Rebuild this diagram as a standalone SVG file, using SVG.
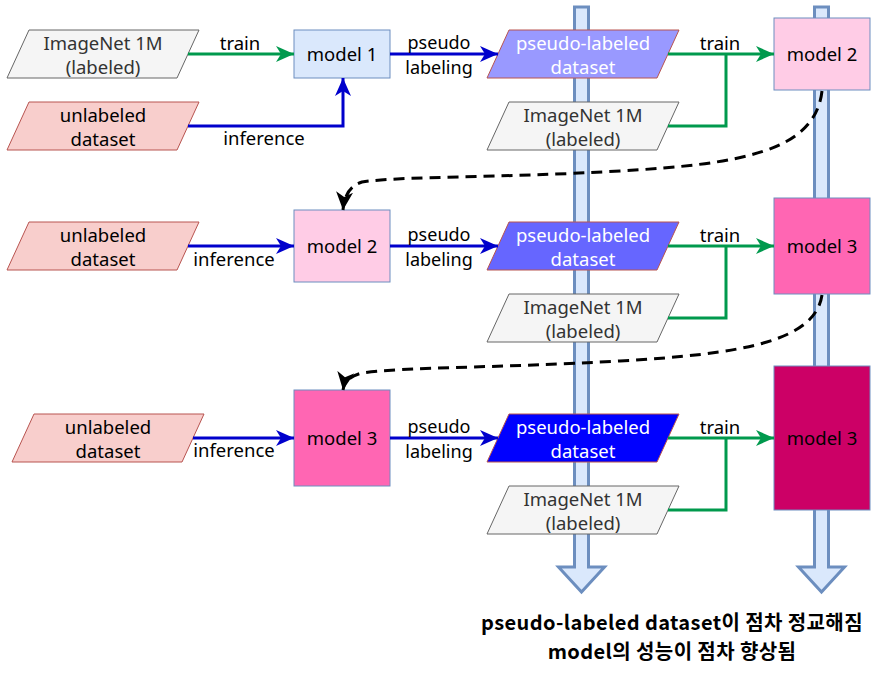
<svg xmlns="http://www.w3.org/2000/svg" width="884" height="674" viewBox="0 0 884 674">
<style>
text{font-family:"Noto Sans","DejaVu Sans",sans-serif;font-size:18.5px;text-anchor:middle;fill:#000}
.gray{fill:#f5f5f5;stroke:#666666;stroke-width:1}
.red{fill:#f8cecc;stroke:#b85450;stroke-width:1}
.pl{stroke:#b85450;stroke-width:1}
.mdl{stroke:#6c8ebf;stroke-width:1}
.t-gray{fill:#333333}
.t-white{fill:#ffffff}
.lbl2{font-size:18px}
.big{fill:#dae8fc;stroke:#6c8ebf;stroke-width:3}
.green{fill:none;stroke:#00994d;stroke-width:3}
.blue{fill:none;stroke:#0000cc;stroke-width:3}
.dash{fill:none;stroke:#000;stroke-width:3;stroke-dasharray:11 7}
.bottom{font-family:"Noto Sans CJK KR","Noto Sans",sans-serif;font-weight:bold;font-size:20px;letter-spacing:0.4px}
</style>
<defs>
<marker id="ag" markerUnits="userSpaceOnUse" markerWidth="18" markerHeight="16" viewBox="0 0 18 16" refX="18" refY="8" orient="auto"><path d="M0,0 L18,8 L0,16 L5,8 Z" fill="#00994d"/></marker>
<marker id="ab" markerUnits="userSpaceOnUse" markerWidth="18" markerHeight="16" viewBox="0 0 18 16" refX="18" refY="8" orient="auto"><path d="M0,0 L18,8 L0,16 L5,8 Z" fill="#0000cc"/></marker>
<marker id="ak" markerUnits="userSpaceOnUse" markerWidth="18" markerHeight="17" viewBox="0 0 18 17" refX="18" refY="8.5" orient="auto"><path d="M0,0 L18,8.5 L0,17 L5,8.5 Z" fill="#000"/></marker>
</defs>

<g id="progress-arrows">
<path class="big" d="M574.5,7 L588.5,7 L588.5,567 L604.5,567 L581.5,592 L558.5,567 L574.5,567 Z"/>
<path class="big" d="M814.5,7 L828.5,7 L828.5,567 L844.5,567 L821.5,592 L798.5,567 L814.5,567 Z"/>
</g>

<g id="imagenet-1">
<polygon class="gray" points="29,30 199,30 177,78 7,78"/>
<text class="t-gray" x="103" y="50">ImageNet 1M</text>
<text class="t-gray" x="103" y="73.5">(labeled)</text>
</g>
<g id="unlabeled-1">
<polygon class="red" points="29,102 199,102 177,150 7,150"/>
<text x="103" y="122">unlabeled</text>
<text x="103" y="145.5">dataset</text>
</g>
<g id="model1">
<rect class="mdl" x="294" y="30" width="96" height="48" fill="#dae8fc"/>
<text x="342" y="61">model 1</text>
</g>
<g id="pseudo-1">
<polygon class="pl" points="509,30 679,30 657,78 487,78" fill="#9999ff"/>
<text class="t-white" x="583" y="50">pseudo-labeled</text>
<text class="t-white" x="583" y="73.5">dataset</text>
</g>
<g id="imagenet-r1">
<polygon class="gray" points="509,102 679,102 657,150 487,150"/>
<text class="t-gray" x="583" y="122">ImageNet 1M</text>
<text class="t-gray" x="583" y="145.5">(labeled)</text>
</g>
<g id="model2-r">
<rect class="mdl" x="774" y="18" width="96" height="72" fill="#ffcce6"/>
<text x="822" y="61">model 2</text>
</g>

<g id="unlabeled-2">
<polygon class="red" points="29,222 199,222 177,270 7,270"/>
<text x="103" y="242">unlabeled</text>
<text x="103" y="265.5">dataset</text>
</g>
<g id="model2-l">
<rect class="mdl" x="294" y="210" width="96" height="72" fill="#ffcce6"/>
<text x="342" y="253">model 2</text>
</g>
<g id="pseudo-2">
<polygon class="pl" points="509,222 679,222 657,270 487,270" fill="#6666ff"/>
<text class="t-white" x="583" y="242">pseudo-labeled</text>
<text class="t-white" x="583" y="265.5">dataset</text>
</g>
<g id="imagenet-r2">
<polygon class="gray" points="509,294 679,294 657,342 487,342"/>
<text class="t-gray" x="583" y="314">ImageNet 1M</text>
<text class="t-gray" x="583" y="337.5">(labeled)</text>
</g>
<g id="model3-r">
<rect class="mdl" x="774" y="198" width="96" height="96" fill="#ff66b3"/>
<text x="822" y="253">model 3</text>
</g>

<g id="unlabeled-3">
<polygon class="red" points="34,414 204,414 182,462 12,462"/>
<text x="108" y="434">unlabeled</text>
<text x="108" y="457.5">dataset</text>
</g>
<g id="model3-l">
<rect class="mdl" x="294" y="390" width="96" height="96" fill="#ff66b3"/>
<text x="342" y="445">model 3</text>
</g>
<g id="pseudo-3">
<polygon class="pl" points="509,414 679,414 657,462 487,462" fill="#0000ff"/>
<text class="t-white" x="583" y="434">pseudo-labeled</text>
<text class="t-white" x="583" y="457.5">dataset</text>
</g>
<g id="imagenet-r3">
<polygon class="gray" points="509,486 679,486 657,534 487,534"/>
<text class="t-gray" x="583" y="506">ImageNet 1M</text>
<text class="t-gray" x="583" y="529.5">(labeled)</text>
</g>
<g id="model3-final">
<rect class="mdl" x="774" y="366" width="96" height="144" fill="#cc0066"/>
<text x="822" y="445" fill="#1a0010">model 3</text>
</g>

<g id="connectors">
<path class="green" d="M188,54 L294,54" marker-end="url(#ag)"/>
<text x="240" y="50">train</text>
<path class="blue" d="M188,126 L343,126 L343,78" marker-end="url(#ab)"/>
<text x="264" y="145">inference</text>
<path class="blue" d="M390,54 L498,54" marker-end="url(#ab)"/>
<text class="lbl2" x="439" y="48.5">pseudo</text>
<text class="lbl2" x="439" y="73.5">labeling</text>
<path class="green" d="M668,54 L774,54" marker-end="url(#ag)"/>
<path class="green" d="M668,126 L726,126 L726,54"/>
<text x="720" y="50">train</text>
<path class="dash" d="M822,91 C815,152 740,164 620,171 S400,176 362,182 Q345,187 343,210" marker-end="url(#ak)"/>

<path class="blue" d="M188,246 L294,246" marker-end="url(#ab)"/>
<text x="234" y="266">inference</text>
<path class="blue" d="M390,246 L498,246" marker-end="url(#ab)"/>
<text class="lbl2" x="439" y="240.5">pseudo</text>
<text class="lbl2" x="439" y="265.5">labeling</text>
<path class="green" d="M668,246 L774,246" marker-end="url(#ag)"/>
<path class="green" d="M668,318 L726,318 L726,246"/>
<text x="720" y="242">train</text>
<path class="dash" d="M822,295 C815,342 740,354 620,361 S400,367 362,373 Q345,377 343,390" marker-end="url(#ak)"/>

<path class="blue" d="M193,438 L294,438" marker-end="url(#ab)"/>
<text x="234" y="457">inference</text>
<path class="blue" d="M390,438 L498,438" marker-end="url(#ab)"/>
<text class="lbl2" x="439" y="432.5">pseudo</text>
<text class="lbl2" x="439" y="457.5">labeling</text>
<path class="green" d="M668,438 L774,438" marker-end="url(#ag)"/>
<path class="green" d="M668,510 L726,510 L726,438"/>
<text x="720" y="434">train</text>
</g>

<g id="caption">
<text class="bottom" x="672" y="630">pseudo-labeled dataset이 점차 정교해짐</text>
<text class="bottom" x="672" y="659">model의 성능이 점차 향상됨</text>
</g>
</svg>
